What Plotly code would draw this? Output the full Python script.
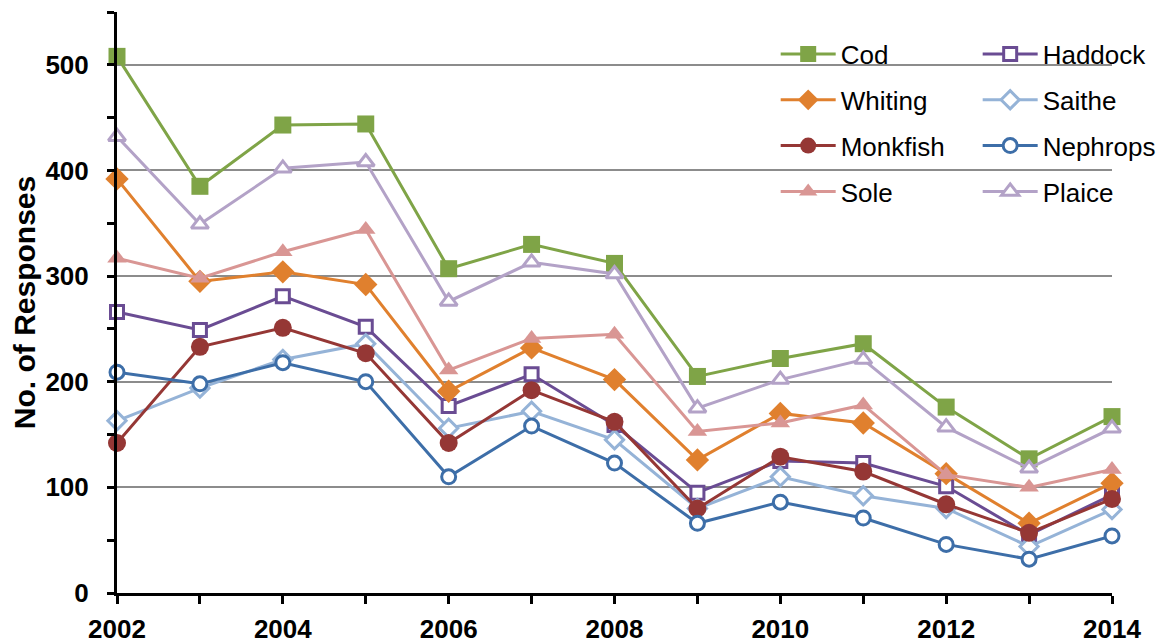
import plotly.graph_objects as go

years = list(range(2002, 2015))
cod      = [508, 385, 443, 444, 307, 330, 312, 205, 222, 236, 176, 127, 167]
haddock  = [266, 249, 281, 252, 177, 207, 159, 95, 125, 123, 101, 55, 93]
whiting  = [392, 295, 304, 292, 191, 232, 202, 126, 170, 161, 113, 66, 104]
saithe   = [163, 194, 221, 236, 156, 172, 145, 80, 110, 92, 80, 44, 79]
monkfish = [142, 233, 251, 227, 142, 192, 162, 80, 129, 115, 84, 57, 89]
nephrops = [209, 198, 218, 200, 110, 158, 123, 66, 86, 71, 46, 32, 54]
sole     = [317, 298, 323, 344, 211, 241, 245, 153, 161, 178, 112, 100, 117]
plaice   = [432, 349, 402, 408, 276, 313, 302, 175, 202, 221, 157, 118, 156]

# name, values, color, symbol, filled, size, legend
series = [
    ("Cod", cod, "#7FA447", "square", True, 17, "legend"),
    ("Haddock", haddock, "#6A4C93", "square", False, 13, "legend2"),
    ("Whiting", whiting, "#E0802E", "diamond", True, 18, "legend"),
    ("Saithe", saithe, "#95B3D7", "diamond", False, 14, "legend2"),
    ("Monkfish", monkfish, "#953735", "circle", True, 18, "legend"),
    ("Nephrops", nephrops, "#3D6EA8", "circle", False, 14, "legend2"),
    ("Sole", sole, "#D99694", "triangle-up", True, 17, "legend"),
    ("Plaice", plaice, "#B3A2C7", "triangle-up", False, 15, "legend2"),
]

fig = go.Figure()
for name, vals, color, sym, filled, size, leg in series:
    if filled:
        marker = dict(symbol=sym, size=size, color=color, line=dict(width=0))
    else:
        marker = dict(symbol=sym, size=size, color="white", line=dict(width=3, color=color))
    fig.add_trace(go.Scatter(
        x=years, y=vals, name=name, mode="lines+markers",
        line=dict(color=color, width=3), marker=marker,
        cliponaxis=False, legend=leg, legendgroup=name,
    ))

FONT = "Liberation Sans, Arial, sans-serif"

fig.add_shape(type="rect", xref="paper", yref="paper",
              x0=0.656, x1=1.06, y0=0.66, y1=0.975,
              fillcolor="white", line=dict(width=0), layer="between")

legend_common = dict(
    font=dict(family=FONT, size=26, color="black"),
    bgcolor="rgba(0,0,0,0)", borderwidth=0, tracegroupgap=9,
    xanchor="left", yanchor="top", orientation="v", itemwidth=55,
)

# the page body adds an 8px offset; the figure is sized to fill the rest of the window
fig.update_layout(
    width=1161, height=636,
    paper_bgcolor="white", plot_bgcolor="white",
    margin=dict(l=109, r=57, t=4, b=51, autoexpand=False),
    legend=dict(x=0.662, y=0.968, **legend_common),
    legend2=dict(x=0.865, y=0.968, **legend_common),
    xaxis=dict(
        range=[2002, 2014], dtick=2, tick0=2002,
        showgrid=False, zeroline=False, automargin=False,
        showline=True, linecolor="black", linewidth=3,
        ticks="outside", ticklen=8, tickwidth=3, tickcolor="black",
        tickfont=dict(family=FONT, size=26, color="black", weight="bold"),
        ticklabelstandoff=3,
        minor=dict(dtick=1, tick0=2002, ticks="outside", ticklen=8, tickwidth=3,
                   tickcolor="black", showgrid=False),
        fixedrange=True,
    ),
    yaxis=dict(
        range=[0, 550], dtick=100, tick0=0,
        showgrid=True, gridcolor="#8C8C8C", gridwidth=1.5,
        zeroline=False, automargin=True,
        showline=True, linecolor="black", linewidth=3,
        ticks="outside", ticklen=7, tickwidth=3, tickcolor="black",
        tickfont=dict(family=FONT, size=26, color="black", weight="bold"),
        ticklabelstandoff=13,
        minor=dict(dtick=50, tick0=0, ticks="outside", ticklen=7, tickwidth=3,
                   tickcolor="black", showgrid=False),
        title=dict(text="No. of Responses", standoff=19,
                   font=dict(family=FONT, size=30, color="black", weight="bold")),
        fixedrange=True,
    ),
    showlegend=True,
)

fig.write_html("out.html")
